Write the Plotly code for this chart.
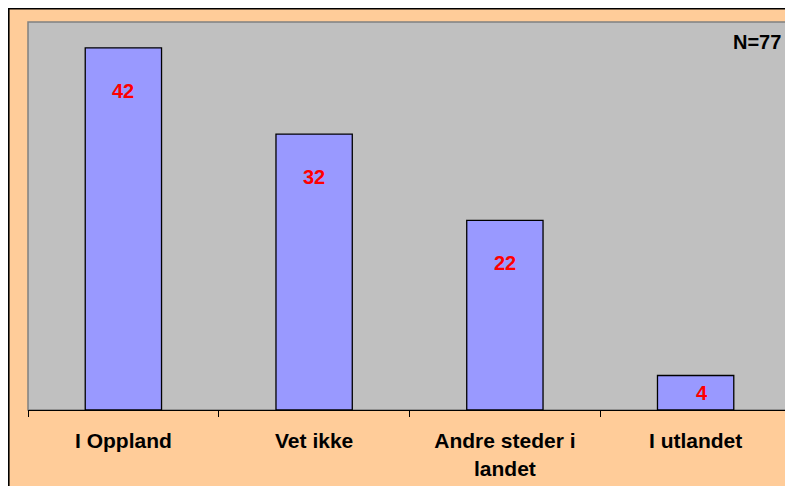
import plotly.graph_objects as go

# data
categories = ["I Oppland", "Vet ikke", "Andre steder i<br>landet", "I utlandet"]
values = [42, 32, 22, 4]
n_label = "N=77"

BAR_COLOR = "#9999FF"
PLOT_BG = "#C0C0C0"
PAPER_BG = "#FFCC99"
FONT = "Liberation Sans, Arial, sans-serif"

# plot area size in px (used to place the frame lines in paper coords)
PLOT_W = 763
PLOT_H = 388
M_L, M_T = 20, 14

fig = go.Figure()

fig.add_trace(
    go.Bar(
        x=categories,
        y=values,
        width=0.4,
        marker=dict(color=BAR_COLOR, line=dict(color="black", width=1.3)),
        hoverinfo="x+y",
    )
)

# value labels inside the bars (near top, centred for short bars)
for cat, val in zip(categories, values):
    if val > 10:
        y, shift, xs = val, -43, 0
    else:
        y, shift, xs = val / 2, 0, 6
    fig.add_annotation(
        x=cat,
        y=y,
        yshift=shift,
        xshift=xs,
        text=f"<b>{val}</b>",
        showarrow=False,
        font=dict(family=FONT, size=20, color="#FF0000"),
    )

fig.add_annotation(
    xref="paper",
    yref="paper",
    x=1,
    y=1,
    xshift=-8,
    yshift=-20,
    xanchor="right",
    yanchor="middle",
    text=f"<b>{n_label}</b>",
    showarrow=False,
    font=dict(family=FONT, size=20, color="black"),
)

# black frame around the chart (left/top edges visible)
fig.add_shape(
    type="rect",
    xref="paper",
    yref="paper",
    x0=(-M_L + 0.8) / PLOT_W,
    x1=1 + 20 / PLOT_W,
    y0=-100 / PLOT_H,
    y1=1 + (M_T - 0.8) / PLOT_H,
    line=dict(color="black", width=1.6),
    layer="above",
)
# grey plot-area border
fig.add_shape(
    type="rect",
    xref="paper",
    yref="paper",
    x0=0,
    x1=1,
    y0=0,
    y1=1,
    line=dict(color="#808080", width=1.5),
    layer="below",
)

fig.update_layout(
    width=785,
    height=478,
    margin=dict(l=M_L, r=2, t=M_T, b=76),
    paper_bgcolor=PAPER_BG,
    plot_bgcolor=PLOT_BG,
    showlegend=False,
    xaxis=dict(
        tickson="boundaries",
        ticks="outside",
        ticklen=6,
        tickcolor="black",
        showline=True,
        linecolor="black",
        linewidth=1.3,
        showgrid=False,
        tickfont=dict(family=FONT, size=21, color="black", weight="bold"),
        ticklabelstandoff=12,
    ),
    yaxis=dict(
        range=[0, 45],
        visible=False,
        showgrid=False,
    ),
)

fig.write_html("out.html")
